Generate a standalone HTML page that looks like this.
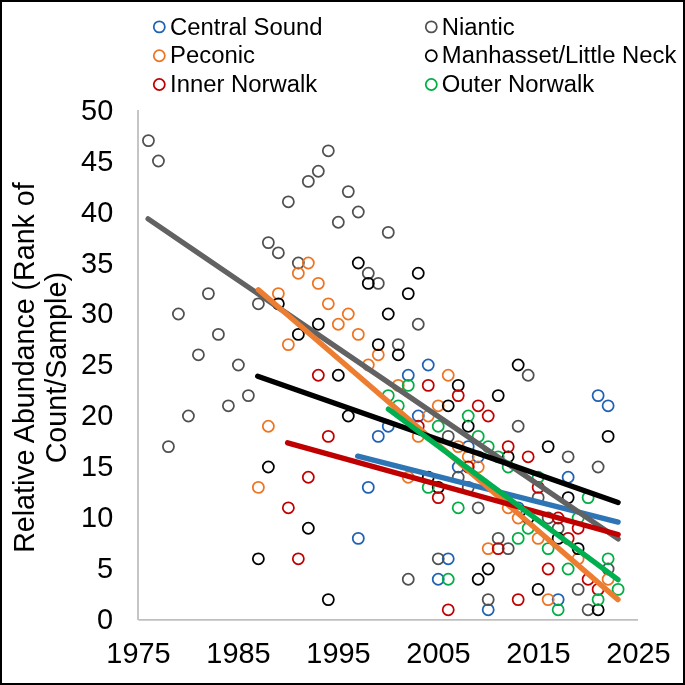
<!DOCTYPE html><html><head><meta charset="utf-8"><style>html,body{margin:0;padding:0;background:#fff;}svg{display:block;will-change:transform;}</style></head><body>
<svg width="685" height="685" viewBox="0 0 685 685" font-family='"Liberation Sans", sans-serif'>
<rect x="0" y="0" width="685" height="685" fill="#fff"/>
<line x1="138" y1="110" x2="138" y2="620" stroke="#BFBFBF" stroke-width="1.8"/>
<line x1="138.4" y1="619.9" x2="638" y2="619.9" stroke="#BFBFBF" stroke-width="1.8"/>
<text transform="translate(113.2,629.10) scale(1,1.05)" font-size="28.9" text-anchor="end" fill="#000">0</text>
<text transform="translate(113.2,578.17) scale(1,1.05)" font-size="28.9" text-anchor="end" fill="#000">5</text>
<text transform="translate(113.2,527.23) scale(1,1.05)" font-size="28.9" text-anchor="end" fill="#000">10</text>
<text transform="translate(113.2,476.30) scale(1,1.05)" font-size="28.9" text-anchor="end" fill="#000">15</text>
<text transform="translate(113.2,425.36) scale(1,1.05)" font-size="28.9" text-anchor="end" fill="#000">20</text>
<text transform="translate(113.2,374.43) scale(1,1.05)" font-size="28.9" text-anchor="end" fill="#000">25</text>
<text transform="translate(113.2,323.49) scale(1,1.05)" font-size="28.9" text-anchor="end" fill="#000">30</text>
<text transform="translate(113.2,272.56) scale(1,1.05)" font-size="28.9" text-anchor="end" fill="#000">35</text>
<text transform="translate(113.2,221.62) scale(1,1.05)" font-size="28.9" text-anchor="end" fill="#000">40</text>
<text transform="translate(113.2,170.69) scale(1,1.05)" font-size="28.9" text-anchor="end" fill="#000">45</text>
<text transform="translate(113.2,119.75) scale(1,1.05)" font-size="28.9" text-anchor="end" fill="#000">50</text>
<text transform="translate(138.5,663.3) scale(1,1.05)" font-size="28.9" text-anchor="middle" fill="#000">1975</text>
<text transform="translate(238.5,663.3) scale(1,1.05)" font-size="28.9" text-anchor="middle" fill="#000">1985</text>
<text transform="translate(338.5,663.3) scale(1,1.05)" font-size="28.9" text-anchor="middle" fill="#000">1995</text>
<text transform="translate(438.5,663.3) scale(1,1.05)" font-size="28.9" text-anchor="middle" fill="#000">2005</text>
<text transform="translate(538.5,663.3) scale(1,1.05)" font-size="28.9" text-anchor="middle" fill="#000">2015</text>
<text transform="translate(638.5,663.3) scale(1,1.05)" font-size="28.9" text-anchor="middle" fill="#000">2025</text>
<g transform="translate(33.6,367.6) rotate(-90) scale(1,1.035)"><text x="0" y="0" font-size="28.62" text-anchor="middle" fill="#000">Relative Abundance (Rank of</text></g>
<g transform="translate(66,367.7) rotate(-90) scale(1,1.035)"><text x="0" y="0" font-size="28.7" text-anchor="middle" fill="#000">Count/Sample)</text></g>
<circle cx="159.3" cy="26.9" r="5.55" fill="none" stroke="#1F62B3" stroke-width="1.75"/>
<text x="170.1" y="34.6" font-size="23.85" fill="#000">Central Sound</text>
<circle cx="159.3" cy="55.7" r="5.55" fill="none" stroke="#EE7422" stroke-width="1.75"/>
<text x="170.1" y="63.4" font-size="23.85" fill="#000">Peconic</text>
<circle cx="159.3" cy="84.5" r="5.55" fill="none" stroke="#C00000" stroke-width="1.75"/>
<text x="170.1" y="92.2" font-size="23.85" fill="#000">Inner Norwalk</text>
<circle cx="431.3" cy="26.9" r="5.55" fill="none" stroke="#505050" stroke-width="1.75"/>
<text x="441.8" y="34.6" font-size="23.85" fill="#000">Niantic</text>
<circle cx="431.3" cy="55.7" r="5.55" fill="none" stroke="#000000" stroke-width="1.75"/>
<text x="441.8" y="63.4" font-size="23.85" fill="#000">Manhasset/Little Neck</text>
<circle cx="431.3" cy="84.5" r="5.55" fill="none" stroke="#00AE45" stroke-width="1.75"/>
<text x="441.8" y="92.2" font-size="23.85" fill="#000">Outer Norwalk</text>
<circle cx="358.30" cy="538.40" r="5.55" fill="none" stroke="#1F62B3" stroke-width="1.75"/>
<circle cx="368.29" cy="487.40" r="5.55" fill="none" stroke="#1F62B3" stroke-width="1.75"/>
<circle cx="378.28" cy="436.40" r="5.55" fill="none" stroke="#1F62B3" stroke-width="1.75"/>
<circle cx="388.27" cy="426.20" r="5.55" fill="none" stroke="#1F62B3" stroke-width="1.75"/>
<circle cx="408.26" cy="375.20" r="5.55" fill="none" stroke="#1F62B3" stroke-width="1.75"/>
<circle cx="418.25" cy="416.00" r="5.55" fill="none" stroke="#1F62B3" stroke-width="1.75"/>
<circle cx="428.25" cy="365.00" r="5.55" fill="none" stroke="#1F62B3" stroke-width="1.75"/>
<circle cx="438.24" cy="579.20" r="5.55" fill="none" stroke="#1F62B3" stroke-width="1.75"/>
<circle cx="448.23" cy="558.80" r="5.55" fill="none" stroke="#1F62B3" stroke-width="1.75"/>
<circle cx="458.23" cy="467.00" r="5.55" fill="none" stroke="#1F62B3" stroke-width="1.75"/>
<circle cx="468.22" cy="446.60" r="5.55" fill="none" stroke="#1F62B3" stroke-width="1.75"/>
<circle cx="478.21" cy="456.80" r="5.55" fill="none" stroke="#1F62B3" stroke-width="1.75"/>
<circle cx="488.20" cy="609.80" r="5.55" fill="none" stroke="#1F62B3" stroke-width="1.75"/>
<circle cx="518.18" cy="507.80" r="5.55" fill="none" stroke="#1F62B3" stroke-width="1.75"/>
<circle cx="558.16" cy="599.60" r="5.55" fill="none" stroke="#1F62B3" stroke-width="1.75"/>
<circle cx="568.15" cy="477.20" r="5.55" fill="none" stroke="#1F62B3" stroke-width="1.75"/>
<circle cx="598.13" cy="395.60" r="5.55" fill="none" stroke="#1F62B3" stroke-width="1.75"/>
<circle cx="608.12" cy="405.80" r="5.55" fill="none" stroke="#1F62B3" stroke-width="1.75"/>
<circle cx="148.44" cy="140.60" r="5.55" fill="none" stroke="#505050" stroke-width="1.75"/>
<circle cx="158.44" cy="161.00" r="5.55" fill="none" stroke="#505050" stroke-width="1.75"/>
<circle cx="168.43" cy="446.60" r="5.55" fill="none" stroke="#505050" stroke-width="1.75"/>
<circle cx="178.42" cy="314.00" r="5.55" fill="none" stroke="#505050" stroke-width="1.75"/>
<circle cx="188.41" cy="416.00" r="5.55" fill="none" stroke="#505050" stroke-width="1.75"/>
<circle cx="198.41" cy="354.80" r="5.55" fill="none" stroke="#505050" stroke-width="1.75"/>
<circle cx="208.40" cy="293.60" r="5.55" fill="none" stroke="#505050" stroke-width="1.75"/>
<circle cx="218.39" cy="334.40" r="5.55" fill="none" stroke="#505050" stroke-width="1.75"/>
<circle cx="228.39" cy="405.80" r="5.55" fill="none" stroke="#505050" stroke-width="1.75"/>
<circle cx="238.38" cy="365.00" r="5.55" fill="none" stroke="#505050" stroke-width="1.75"/>
<circle cx="248.37" cy="395.60" r="5.55" fill="none" stroke="#505050" stroke-width="1.75"/>
<circle cx="258.37" cy="303.80" r="5.55" fill="none" stroke="#505050" stroke-width="1.75"/>
<circle cx="268.36" cy="242.60" r="5.55" fill="none" stroke="#505050" stroke-width="1.75"/>
<circle cx="278.35" cy="252.80" r="5.55" fill="none" stroke="#505050" stroke-width="1.75"/>
<circle cx="288.35" cy="201.80" r="5.55" fill="none" stroke="#505050" stroke-width="1.75"/>
<circle cx="298.34" cy="263.00" r="5.55" fill="none" stroke="#505050" stroke-width="1.75"/>
<circle cx="308.33" cy="181.40" r="5.55" fill="none" stroke="#505050" stroke-width="1.75"/>
<circle cx="318.32" cy="171.20" r="5.55" fill="none" stroke="#505050" stroke-width="1.75"/>
<circle cx="328.32" cy="150.80" r="5.55" fill="none" stroke="#505050" stroke-width="1.75"/>
<circle cx="338.31" cy="222.20" r="5.55" fill="none" stroke="#505050" stroke-width="1.75"/>
<circle cx="348.30" cy="191.60" r="5.55" fill="none" stroke="#505050" stroke-width="1.75"/>
<circle cx="358.30" cy="212.00" r="5.55" fill="none" stroke="#505050" stroke-width="1.75"/>
<circle cx="368.29" cy="273.20" r="5.55" fill="none" stroke="#505050" stroke-width="1.75"/>
<circle cx="378.28" cy="283.40" r="5.55" fill="none" stroke="#505050" stroke-width="1.75"/>
<circle cx="388.27" cy="232.40" r="5.55" fill="none" stroke="#505050" stroke-width="1.75"/>
<circle cx="398.27" cy="344.60" r="5.55" fill="none" stroke="#505050" stroke-width="1.75"/>
<circle cx="408.26" cy="579.20" r="5.55" fill="none" stroke="#505050" stroke-width="1.75"/>
<circle cx="418.25" cy="324.20" r="5.55" fill="none" stroke="#505050" stroke-width="1.75"/>
<circle cx="438.24" cy="558.80" r="5.55" fill="none" stroke="#505050" stroke-width="1.75"/>
<circle cx="448.23" cy="436.40" r="5.55" fill="none" stroke="#505050" stroke-width="1.75"/>
<circle cx="458.23" cy="477.20" r="5.55" fill="none" stroke="#505050" stroke-width="1.75"/>
<circle cx="468.22" cy="487.40" r="5.55" fill="none" stroke="#505050" stroke-width="1.75"/>
<circle cx="478.21" cy="507.80" r="5.55" fill="none" stroke="#505050" stroke-width="1.75"/>
<circle cx="488.20" cy="599.60" r="5.55" fill="none" stroke="#505050" stroke-width="1.75"/>
<circle cx="498.20" cy="538.40" r="5.55" fill="none" stroke="#505050" stroke-width="1.75"/>
<circle cx="508.19" cy="548.60" r="5.55" fill="none" stroke="#505050" stroke-width="1.75"/>
<circle cx="518.18" cy="426.20" r="5.55" fill="none" stroke="#505050" stroke-width="1.75"/>
<circle cx="528.18" cy="375.20" r="5.55" fill="none" stroke="#505050" stroke-width="1.75"/>
<circle cx="538.17" cy="497.60" r="5.55" fill="none" stroke="#505050" stroke-width="1.75"/>
<circle cx="548.16" cy="518.00" r="5.55" fill="none" stroke="#505050" stroke-width="1.75"/>
<circle cx="558.16" cy="528.20" r="5.55" fill="none" stroke="#505050" stroke-width="1.75"/>
<circle cx="568.15" cy="456.80" r="5.55" fill="none" stroke="#505050" stroke-width="1.75"/>
<circle cx="578.14" cy="589.40" r="5.55" fill="none" stroke="#505050" stroke-width="1.75"/>
<circle cx="588.13" cy="609.80" r="5.55" fill="none" stroke="#505050" stroke-width="1.75"/>
<circle cx="598.13" cy="467.00" r="5.55" fill="none" stroke="#505050" stroke-width="1.75"/>
<circle cx="608.12" cy="569.00" r="5.55" fill="none" stroke="#505050" stroke-width="1.75"/>
<circle cx="258.37" cy="487.40" r="5.55" fill="none" stroke="#EE7422" stroke-width="1.75"/>
<circle cx="268.36" cy="426.20" r="5.55" fill="none" stroke="#EE7422" stroke-width="1.75"/>
<circle cx="278.35" cy="293.60" r="5.55" fill="none" stroke="#EE7422" stroke-width="1.75"/>
<circle cx="288.35" cy="344.60" r="5.55" fill="none" stroke="#EE7422" stroke-width="1.75"/>
<circle cx="298.34" cy="273.20" r="5.55" fill="none" stroke="#EE7422" stroke-width="1.75"/>
<circle cx="308.33" cy="263.00" r="5.55" fill="none" stroke="#EE7422" stroke-width="1.75"/>
<circle cx="318.32" cy="283.40" r="5.55" fill="none" stroke="#EE7422" stroke-width="1.75"/>
<circle cx="328.32" cy="303.80" r="5.55" fill="none" stroke="#EE7422" stroke-width="1.75"/>
<circle cx="338.31" cy="324.20" r="5.55" fill="none" stroke="#EE7422" stroke-width="1.75"/>
<circle cx="348.30" cy="314.00" r="5.55" fill="none" stroke="#EE7422" stroke-width="1.75"/>
<circle cx="358.30" cy="334.40" r="5.55" fill="none" stroke="#EE7422" stroke-width="1.75"/>
<circle cx="368.29" cy="365.00" r="5.55" fill="none" stroke="#EE7422" stroke-width="1.75"/>
<circle cx="378.28" cy="354.80" r="5.55" fill="none" stroke="#EE7422" stroke-width="1.75"/>
<circle cx="398.27" cy="385.40" r="5.55" fill="none" stroke="#EE7422" stroke-width="1.75"/>
<circle cx="408.26" cy="477.20" r="5.55" fill="none" stroke="#EE7422" stroke-width="1.75"/>
<circle cx="418.25" cy="436.40" r="5.55" fill="none" stroke="#EE7422" stroke-width="1.75"/>
<circle cx="428.25" cy="416.00" r="5.55" fill="none" stroke="#EE7422" stroke-width="1.75"/>
<circle cx="438.24" cy="405.80" r="5.55" fill="none" stroke="#EE7422" stroke-width="1.75"/>
<circle cx="448.23" cy="375.20" r="5.55" fill="none" stroke="#EE7422" stroke-width="1.75"/>
<circle cx="458.23" cy="446.60" r="5.55" fill="none" stroke="#EE7422" stroke-width="1.75"/>
<circle cx="468.22" cy="456.80" r="5.55" fill="none" stroke="#EE7422" stroke-width="1.75"/>
<circle cx="478.21" cy="467.00" r="5.55" fill="none" stroke="#EE7422" stroke-width="1.75"/>
<circle cx="488.20" cy="548.60" r="5.55" fill="none" stroke="#EE7422" stroke-width="1.75"/>
<circle cx="508.19" cy="507.80" r="5.55" fill="none" stroke="#EE7422" stroke-width="1.75"/>
<circle cx="518.18" cy="518.00" r="5.55" fill="none" stroke="#EE7422" stroke-width="1.75"/>
<circle cx="538.17" cy="538.40" r="5.55" fill="none" stroke="#EE7422" stroke-width="1.75"/>
<circle cx="548.16" cy="599.60" r="5.55" fill="none" stroke="#EE7422" stroke-width="1.75"/>
<circle cx="578.14" cy="558.80" r="5.55" fill="none" stroke="#EE7422" stroke-width="1.75"/>
<circle cx="608.12" cy="579.20" r="5.55" fill="none" stroke="#EE7422" stroke-width="1.75"/>
<circle cx="258.37" cy="558.80" r="5.55" fill="none" stroke="#000000" stroke-width="1.75"/>
<circle cx="268.36" cy="467.00" r="5.55" fill="none" stroke="#000000" stroke-width="1.75"/>
<circle cx="278.35" cy="303.80" r="5.55" fill="none" stroke="#000000" stroke-width="1.75"/>
<circle cx="298.34" cy="334.40" r="5.55" fill="none" stroke="#000000" stroke-width="1.75"/>
<circle cx="308.33" cy="528.20" r="5.55" fill="none" stroke="#000000" stroke-width="1.75"/>
<circle cx="318.32" cy="324.20" r="5.55" fill="none" stroke="#000000" stroke-width="1.75"/>
<circle cx="328.32" cy="599.60" r="5.55" fill="none" stroke="#000000" stroke-width="1.75"/>
<circle cx="338.31" cy="375.20" r="5.55" fill="none" stroke="#000000" stroke-width="1.75"/>
<circle cx="348.30" cy="416.00" r="5.55" fill="none" stroke="#000000" stroke-width="1.75"/>
<circle cx="358.30" cy="263.00" r="5.55" fill="none" stroke="#000000" stroke-width="1.75"/>
<circle cx="368.29" cy="283.40" r="5.55" fill="none" stroke="#000000" stroke-width="1.75"/>
<circle cx="378.28" cy="344.60" r="5.55" fill="none" stroke="#000000" stroke-width="1.75"/>
<circle cx="388.27" cy="314.00" r="5.55" fill="none" stroke="#000000" stroke-width="1.75"/>
<circle cx="398.27" cy="354.80" r="5.55" fill="none" stroke="#000000" stroke-width="1.75"/>
<circle cx="408.26" cy="293.60" r="5.55" fill="none" stroke="#000000" stroke-width="1.75"/>
<circle cx="418.25" cy="273.20" r="5.55" fill="none" stroke="#000000" stroke-width="1.75"/>
<circle cx="428.25" cy="477.20" r="5.55" fill="none" stroke="#000000" stroke-width="1.75"/>
<circle cx="438.24" cy="487.40" r="5.55" fill="none" stroke="#000000" stroke-width="1.75"/>
<circle cx="448.23" cy="405.80" r="5.55" fill="none" stroke="#000000" stroke-width="1.75"/>
<circle cx="458.23" cy="385.40" r="5.55" fill="none" stroke="#000000" stroke-width="1.75"/>
<circle cx="468.22" cy="426.20" r="5.55" fill="none" stroke="#000000" stroke-width="1.75"/>
<circle cx="478.21" cy="579.20" r="5.55" fill="none" stroke="#000000" stroke-width="1.75"/>
<circle cx="488.20" cy="569.00" r="5.55" fill="none" stroke="#000000" stroke-width="1.75"/>
<circle cx="498.20" cy="395.60" r="5.55" fill="none" stroke="#000000" stroke-width="1.75"/>
<circle cx="508.19" cy="456.80" r="5.55" fill="none" stroke="#000000" stroke-width="1.75"/>
<circle cx="518.18" cy="365.00" r="5.55" fill="none" stroke="#000000" stroke-width="1.75"/>
<circle cx="528.18" cy="518.00" r="5.55" fill="none" stroke="#000000" stroke-width="1.75"/>
<circle cx="538.17" cy="589.40" r="5.55" fill="none" stroke="#000000" stroke-width="1.75"/>
<circle cx="548.16" cy="446.60" r="5.55" fill="none" stroke="#000000" stroke-width="1.75"/>
<circle cx="558.16" cy="538.40" r="5.55" fill="none" stroke="#000000" stroke-width="1.75"/>
<circle cx="568.15" cy="497.60" r="5.55" fill="none" stroke="#000000" stroke-width="1.75"/>
<circle cx="578.14" cy="548.60" r="5.55" fill="none" stroke="#000000" stroke-width="1.75"/>
<circle cx="598.13" cy="609.80" r="5.55" fill="none" stroke="#000000" stroke-width="1.75"/>
<circle cx="608.12" cy="436.40" r="5.55" fill="none" stroke="#000000" stroke-width="1.75"/>
<circle cx="288.35" cy="507.80" r="5.55" fill="none" stroke="#C00000" stroke-width="1.75"/>
<circle cx="298.34" cy="558.80" r="5.55" fill="none" stroke="#C00000" stroke-width="1.75"/>
<circle cx="308.33" cy="477.20" r="5.55" fill="none" stroke="#C00000" stroke-width="1.75"/>
<circle cx="318.32" cy="375.20" r="5.55" fill="none" stroke="#C00000" stroke-width="1.75"/>
<circle cx="328.32" cy="436.40" r="5.55" fill="none" stroke="#C00000" stroke-width="1.75"/>
<circle cx="418.25" cy="426.20" r="5.55" fill="none" stroke="#C00000" stroke-width="1.75"/>
<circle cx="428.25" cy="385.40" r="5.55" fill="none" stroke="#C00000" stroke-width="1.75"/>
<circle cx="438.24" cy="497.60" r="5.55" fill="none" stroke="#C00000" stroke-width="1.75"/>
<circle cx="448.23" cy="609.80" r="5.55" fill="none" stroke="#C00000" stroke-width="1.75"/>
<circle cx="458.23" cy="395.60" r="5.55" fill="none" stroke="#C00000" stroke-width="1.75"/>
<circle cx="468.22" cy="467.00" r="5.55" fill="none" stroke="#C00000" stroke-width="1.75"/>
<circle cx="478.21" cy="405.80" r="5.55" fill="none" stroke="#C00000" stroke-width="1.75"/>
<circle cx="488.20" cy="416.00" r="5.55" fill="none" stroke="#C00000" stroke-width="1.75"/>
<circle cx="498.20" cy="548.60" r="5.55" fill="none" stroke="#C00000" stroke-width="1.75"/>
<circle cx="508.19" cy="446.60" r="5.55" fill="none" stroke="#C00000" stroke-width="1.75"/>
<circle cx="518.18" cy="599.60" r="5.55" fill="none" stroke="#C00000" stroke-width="1.75"/>
<circle cx="528.18" cy="456.80" r="5.55" fill="none" stroke="#C00000" stroke-width="1.75"/>
<circle cx="538.17" cy="487.40" r="5.55" fill="none" stroke="#C00000" stroke-width="1.75"/>
<circle cx="548.16" cy="569.00" r="5.55" fill="none" stroke="#C00000" stroke-width="1.75"/>
<circle cx="558.16" cy="518.00" r="5.55" fill="none" stroke="#C00000" stroke-width="1.75"/>
<circle cx="568.15" cy="538.40" r="5.55" fill="none" stroke="#C00000" stroke-width="1.75"/>
<circle cx="578.14" cy="528.20" r="5.55" fill="none" stroke="#C00000" stroke-width="1.75"/>
<circle cx="588.13" cy="579.20" r="5.55" fill="none" stroke="#C00000" stroke-width="1.75"/>
<circle cx="598.13" cy="589.40" r="5.55" fill="none" stroke="#C00000" stroke-width="1.75"/>
<circle cx="388.27" cy="395.60" r="5.55" fill="none" stroke="#00AE45" stroke-width="1.75"/>
<circle cx="398.27" cy="405.80" r="5.55" fill="none" stroke="#00AE45" stroke-width="1.75"/>
<circle cx="408.26" cy="385.40" r="5.55" fill="none" stroke="#00AE45" stroke-width="1.75"/>
<circle cx="428.25" cy="487.40" r="5.55" fill="none" stroke="#00AE45" stroke-width="1.75"/>
<circle cx="438.24" cy="426.20" r="5.55" fill="none" stroke="#00AE45" stroke-width="1.75"/>
<circle cx="448.23" cy="579.20" r="5.55" fill="none" stroke="#00AE45" stroke-width="1.75"/>
<circle cx="458.23" cy="507.80" r="5.55" fill="none" stroke="#00AE45" stroke-width="1.75"/>
<circle cx="468.22" cy="416.00" r="5.55" fill="none" stroke="#00AE45" stroke-width="1.75"/>
<circle cx="478.21" cy="436.40" r="5.55" fill="none" stroke="#00AE45" stroke-width="1.75"/>
<circle cx="488.20" cy="446.60" r="5.55" fill="none" stroke="#00AE45" stroke-width="1.75"/>
<circle cx="498.20" cy="456.80" r="5.55" fill="none" stroke="#00AE45" stroke-width="1.75"/>
<circle cx="508.19" cy="467.00" r="5.55" fill="none" stroke="#00AE45" stroke-width="1.75"/>
<circle cx="518.18" cy="538.40" r="5.55" fill="none" stroke="#00AE45" stroke-width="1.75"/>
<circle cx="528.18" cy="528.20" r="5.55" fill="none" stroke="#00AE45" stroke-width="1.75"/>
<circle cx="538.17" cy="477.20" r="5.55" fill="none" stroke="#00AE45" stroke-width="1.75"/>
<circle cx="548.16" cy="548.60" r="5.55" fill="none" stroke="#00AE45" stroke-width="1.75"/>
<circle cx="558.16" cy="609.80" r="5.55" fill="none" stroke="#00AE45" stroke-width="1.75"/>
<circle cx="568.15" cy="569.00" r="5.55" fill="none" stroke="#00AE45" stroke-width="1.75"/>
<circle cx="578.14" cy="518.00" r="5.55" fill="none" stroke="#00AE45" stroke-width="1.75"/>
<circle cx="588.13" cy="497.60" r="5.55" fill="none" stroke="#00AE45" stroke-width="1.75"/>
<circle cx="598.13" cy="599.60" r="5.55" fill="none" stroke="#00AE45" stroke-width="1.75"/>
<circle cx="608.12" cy="558.80" r="5.55" fill="none" stroke="#00AE45" stroke-width="1.75"/>
<circle cx="618.11" cy="589.40" r="5.55" fill="none" stroke="#00AE45" stroke-width="1.75"/>
<line x1="357.7" y1="456.2" x2="618.1" y2="522.1" stroke="#2E75B6" stroke-width="5.35" stroke-linecap="round"/>
<line x1="148.1" y1="218.9" x2="618.1" y2="538.9" stroke="#626262" stroke-width="5.35" stroke-linecap="round"/>
<line x1="258.4" y1="289.8" x2="618.0" y2="599.6" stroke="#ED7D31" stroke-width="5.35" stroke-linecap="round"/>
<line x1="257.7" y1="376.2" x2="618.1" y2="502.4" stroke="#000000" stroke-width="5.35" stroke-linecap="round"/>
<line x1="287.6" y1="442.8" x2="618.1" y2="534.5" stroke="#C00000" stroke-width="5.35" stroke-linecap="round"/>
<line x1="388.4" y1="409.2" x2="618.0" y2="579.6" stroke="#00B050" stroke-width="5.35" stroke-linecap="round"/>
<rect x="1" y="1" width="683" height="683" fill="none" stroke="#000" stroke-width="2"/>
</svg></body></html>
